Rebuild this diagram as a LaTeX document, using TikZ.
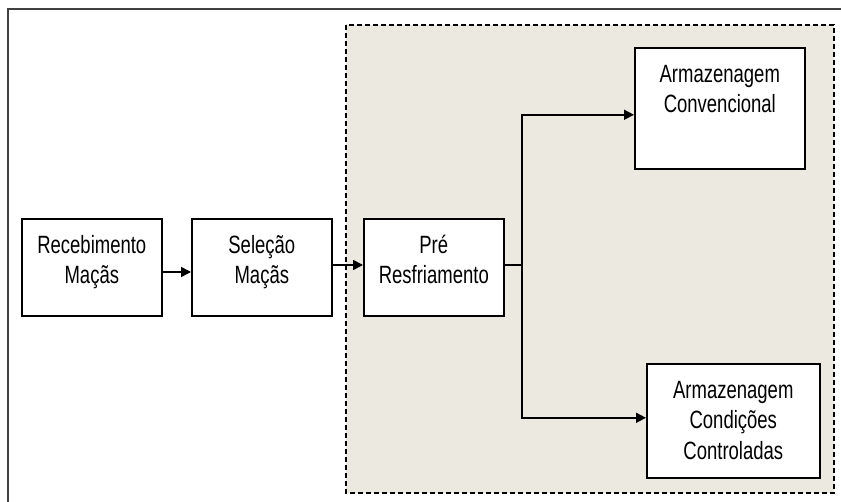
\documentclass[tikz,border=0pt]{standalone}
\usepackage{fontspec}
\setmainfont{Liberation Sans}[FakeStretch=0.74]
\usetikzlibrary{arrows.meta}
\definecolor{zonefill}{RGB}{236,233,224}
\definecolor{framegray}{RGB}{64,64,64}
\begin{document}
\begin{tikzpicture}[x=1pt,y=-1pt,
  stepbox/.style={draw=black,line width=1.6pt,fill=white,rectangle,inner sep=0pt,anchor=north west},
  boxtext/.style={anchor=north,inner sep=0pt,align=center,font=\fontsize{25pt}{30.5pt}\selectfont},
  flow/.style={line width=1.6pt,-{Triangle[length=10pt,width=10pt]}},
  plain/.style={line width=1.6pt}]
\useasboundingbox (0,0) rectangle (841,502);
\fill[white] (0,0) rectangle (841,502);

% outer frame (top and left edges)
\draw[framegray,line width=2pt] (841,9) -- (8,9) -- (8,502);

% dashed storage zone
\draw[fill=zonefill,line width=1.5pt,dash pattern=on 5pt off 3pt] (346,25) rectangle (834,493);

% process boxes
\node[stepbox,minimum width=140pt,minimum height=97pt] (rec) at (21,218) {};
\node[stepbox,minimum width=140pt,minimum height=97pt] (sel) at (191,218) {};
\node[stepbox,minimum width=140pt,minimum height=97pt] (pre) at (363,218) {};
\node[stepbox,minimum width=170pt,minimum height=121pt] (conv) at (634,47) {};
\node[stepbox,minimum width=173pt,minimum height=114pt] (ctrl) at (646,363) {};

% box labels (first baseline 35pt below the top edge)
\node[boxtext] (recT) at ([yshift=-11pt]rec.north) {\rule{0pt}{24pt}Recebimento\\Maçãs};
\node[boxtext] (selT) at ([yshift=-11pt]sel.north) {\rule{0pt}{24pt}Seleção\\Maçãs};
\node[boxtext] (preT) at ([yshift=-11pt]pre.north) {\rule{0pt}{24pt}Pré\\Resfriamento};
\node[boxtext] (convT) at ([yshift=-11pt]conv.north) {\rule{0pt}{24pt}Armazenagem\\Convencional};
\node[boxtext] (ctrlT) at ([yshift=-11pt]ctrl.north) {\rule{0pt}{24pt}Armazenagem\\Condições\\Controladas};

% connectors
\coordinate (j) at (522,265);
\coordinate (recout) at (161,272);
\draw[flow] (recout) -- (sel.west |- recout);
\draw[flow] (sel.east |- j) -- (pre.west |- j);
\draw[plain] (pre.east |- j) -- (j);
\draw[flow] (j) |- ([yshift=-6.5pt]conv.west);
\draw[flow] (j) |- ([yshift=3pt]ctrl.west);
\end{tikzpicture}
\end{document}
